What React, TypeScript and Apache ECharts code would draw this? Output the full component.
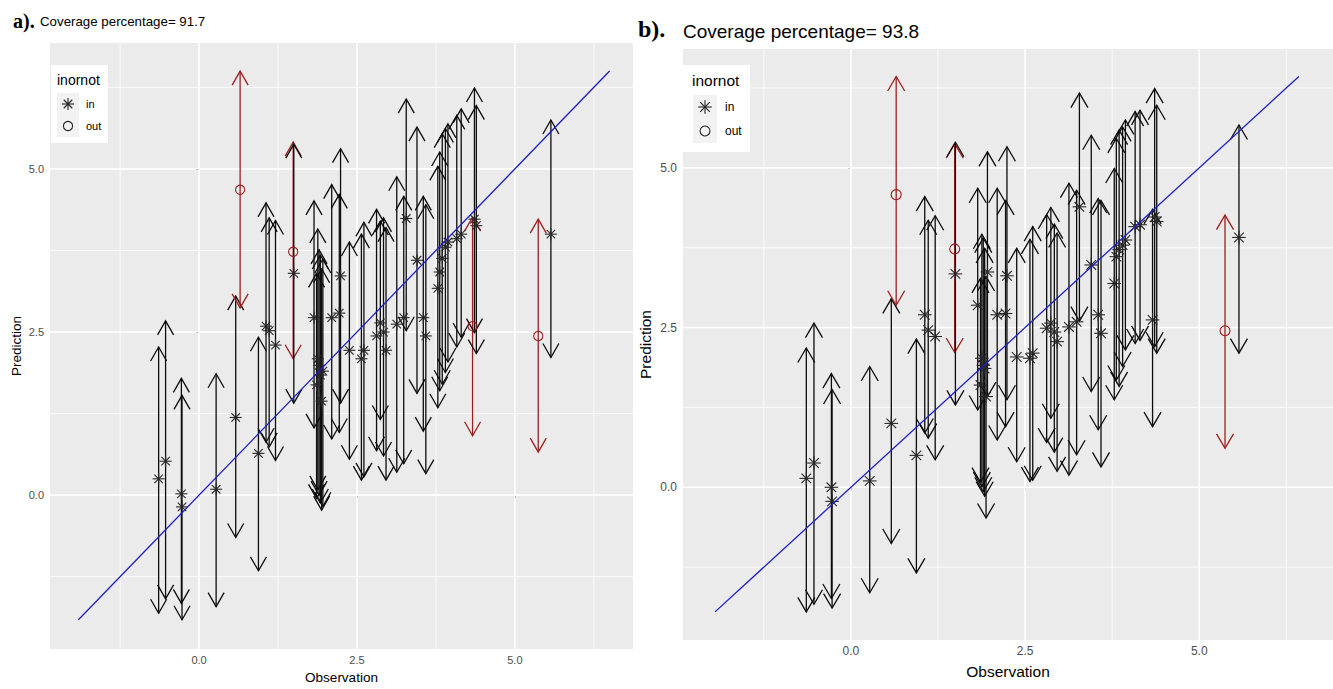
import React, { useEffect, useRef } from 'react';
import * as echarts from 'echarts';

// ---------------- data ----------------
const obs = [
  -0.64, -0.53, -0.28, -0.27, 0.27, 0.58, 0.65, 0.94, 1.06, 1.11, 1.21, 1.49, 1.5,
  1.82, 1.86, 1.88, 1.9, 1.92, 1.94, 1.96, 2.1, 2.22, 2.24, 2.38, 2.57, 2.61,
  2.81, 2.87, 2.92, 2.96, 3.13, 3.24, 3.28, 3.45, 3.55, 3.59, 3.78, 3.81, 3.85,
  3.9, 3.94, 4.08, 4.15, 4.33, 4.36, 4.39, 5.37, 5.57,
];

const predA = [
  0.25, 0.52, 0.02, -0.18, 0.09, 1.19, 4.68, 0.64, 2.59, 2.52, 2.3, 3.73, 3.4,
  2.72, 1.69, 2.09, 1.99, 1.84, 1.44, 1.9, 2.72, 2.79, 3.36, 2.22, 2.09, 2.22,
  2.44, 2.64, 2.5, 2.22, 2.62, 2.72, 4.24, 3.6, 2.72, 2.44, 3.17, 3.42, 3.63,
  3.8, 3.88, 3.93, 4.0, 2.59, 4.23, 4.13, 2.44, 4.0,
];
const lowA = [
  -1.81, -1.59, -1.66, -1.91, -1.71, -0.65, 2.87, -1.16, 0.81, 0.74, 0.53, 2.09, 1.41,
  1.03, -0.05, 0.08, 0.0, -0.12, -0.23, -0.17, 0.86, 0.96, 1.41, 0.55, 0.23, 0.28,
  0.68, 1.16, 0.6, 0.23, 0.35, 0.48, 2.52, 1.56, 0.98, 0.33, 1.34, 1.6, 1.7,
  1.88, 2.04, 2.27, 2.42, 0.91, 2.49, 2.17, 0.66, 2.11,
];
const highA = [
  2.27, 2.67, 1.79, 1.53, 1.86, 3.05, 6.5, 2.42, 4.48, 4.25, 4.21, 5.41, 5.38,
  4.51, 3.4, 4.08, 3.76, 3.68, 3.47, 3.62, 4.76, 4.61, 5.31, 3.88, 4.0, 4.18,
  4.38, 4.2, 4.25, 4.1, 4.88, 4.58, 6.07, 5.64, 4.58, 4.45, 5.04, 5.26, 5.54,
  5.62, 5.69, 5.82, 5.92, 4.26, 6.24, 5.97, 4.23, 5.75,
];

const predB = [
  0.14, 0.38, 0.0, -0.22, 0.1, 1.0, 4.58, 0.5, 2.7, 2.46, 2.36, 3.73, 3.34,
  2.85, 1.6, 2.02, 1.91, 1.86, 1.42, 3.37, 2.7, 2.72, 3.31, 2.04, 2.02, 2.1,
  2.49, 2.57, 2.43, 2.28, 2.51, 2.59, 4.39, 3.48, 2.7, 2.41, 3.19, 3.61, 3.72,
  3.79, 3.87, 4.08, 4.11, 2.62, 4.23, 4.16, 2.45, 3.91,
];
const lowB = [
  -1.95, -1.83, -1.74, -1.89, -1.65, -0.88, 2.85, -1.34, 0.85, 0.77, 0.43, 2.11, 1.29,
  1.21, 0.08, 0.01, -0.07, -0.14, -0.48, 1.42, 0.74, 0.95, 1.37, 0.4, 0.09, 0.11,
  0.7, 1.08, 0.55, 0.25, 0.19, 0.51, 2.6, 1.5, 0.9, 0.32, 1.37, 1.68, 1.58,
  1.89, 2.15, 2.25, 2.3, 0.95, 2.2, 2.1, 0.61, 2.1,
];
const highB = [
  2.18, 2.57, 1.78, 1.53, 1.89, 2.95, 6.43, 2.32, 4.55, 4.18, 4.25, 5.38, 5.4,
  4.68, 3.27, 3.96, 3.9, 3.74, 3.3, 5.25, 4.68, 4.49, 5.33, 3.74, 3.88, 4.08,
  4.27, 4.38, 4.12, 3.98, 4.76, 4.65, 6.17, 5.51, 4.52, 4.49, 4.99, 5.46, 5.59,
  5.64, 5.75, 5.88, 5.9, 4.35, 6.24, 5.98, 4.26, 5.67,
];

const tickValues = [0, 2.5, 5];
const gridValues = [-1.25, 0, 1.25, 2.5, 3.75, 5, 6.25];
const panelTags = ['a).', 'b).'];
const panelTitles = ['Coverage percentage= 91.7', 'Coverage percentage= 93.8'];
const legendTitle = 'inornot';
const legendLabels = ['in', 'out'];
const xName = 'Observation';
const yName = 'Prediction';

// ---------------- styles / layout ----------------
const SANS = '"Liberation Sans", Arial, sans-serif';
const SERIF = '"Liberation Serif", "Times New Roman", serif';
const BLACK = '#0D0D0D';
const RED = '#9E1F1F';
const BLUE = '#1F1FC4';

const panels = [
  {
    grid: { left: 50, top: 43, width: 583, height: 615 },
    xMin: -2.36, xMax: 6.87, yMin: -2.36, yMax: 6.93,
    headW: 8, headL: 14, star: 6, circ: 4.6,
    tickFont: 11, nameFont: 13.5, xNameGap: 19, yNameGap: 27,
    pred: predA, low: lowA, high: highA,
    tag: { x: 13, y: 21, size: 20 }, title: { x: 40, y: 21, size: 13.3 },
    legend: { x: 51, y: 65, w: 57, h: 78, tx: 57, ty: 80, tsize: 14, kx: 57, ky: 93, k: 22, lx: 86, lsize: 11 },
  },
  {
    grid: { left: 683, top: 49, width: 666, height: 591 },
    xMin: -2.41, xMax: 6.92, yMin: -2.39, yMax: 6.86,
    headW: 8.5, headL: 14.5, star: 6.8, circ: 5,
    tickFont: 12, nameFont: 15.5, xNameGap: 23, yNameGap: 30,
    pred: predB, low: lowB, high: highB,
    tag: { x: 638, y: 29, size: 24 }, title: { x: 683, y: 31, size: 19 },
    legend: { x: 683, y: 65, w: 67, h: 87, tx: 692, ty: 80, tsize: 15.5, kx: 693, ky: 95, k: 24, lx: 725, lsize: 12 },
  },
];

function asteriskLines(cx: number, cy: number, r: number, color: string, lw: number) {
  const d = r * 0.7071;
  const style = { stroke: color, lineWidth: lw };
  return [
    { type: 'line', shape: { x1: cx - r, y1: cy, x2: cx + r, y2: cy }, style },
    { type: 'line', shape: { x1: cx, y1: cy - r, x2: cx, y2: cy + r }, style },
    { type: 'line', shape: { x1: cx - d, y1: cy - d, x2: cx + d, y2: cy + d }, style },
    { type: 'line', shape: { x1: cx - d, y1: cy + d, x2: cx + d, y2: cy - d }, style },
  ];
}

function buildOption() {
  const series: any[] = [];
  const graphic: any[] = [];

  panels.forEach((p, i) => {
    const rows = obs.map((o, k) => [o, p.pred[k], p.low[k], p.high[k], o < p.low[k] || o > p.high[k] ? 1 : 0]);
    const lineStart = Math.min(...p.low);
    const lineEnd = Math.max(...p.high);

    // grid lines
    const gl: any[] = [];
    gridValues.forEach((v) => { gl.push([v, 0]); gl.push([v, 1]); });
    series.push({
      type: 'custom',
      xAxisIndex: i,
      yAxisIndex: i,
      silent: true,
      z: 1,
      data: gl,
      renderItem: (params: any, api: any) => {
        const v = api.value(0);
        const o = api.value(1);
        const cs = params.coordSys;
        const major = tickValues.indexOf(v) >= 0;
        const lw = major ? 1.6 : 0.8;
        if (o === 0) {
          const px = api.coord([v, 0])[0];
          return { type: 'line', shape: { x1: px, y1: cs.y, x2: px, y2: cs.y + cs.height }, style: { stroke: '#FFFFFF', lineWidth: lw } };
        }
        const py = api.coord([0, v])[1];
        return { type: 'line', shape: { x1: cs.x, y1: py, x2: cs.x + cs.width, y2: py }, style: { stroke: '#FFFFFF', lineWidth: lw } };
      },
    });

    // arrows
    series.push({
      type: 'custom',
      xAxisIndex: i,
      yAxisIndex: i,
      silent: true,
      z: 2,
      data: rows,
      renderItem: (_params: any, api: any) => {
        const x = api.value(0);
        const lo = api.value(2);
        const hi = api.value(3);
        const out = api.value(4);
        const color = out ? RED : BLACK;
        const t = api.coord([x, hi]);
        const b = api.coord([x, lo]);
        const style = { stroke: color, lineWidth: 1.3, fill: 'none' };
        return {
          type: 'group',
          children: [
            { type: 'line', shape: { x1: t[0], y1: t[1], x2: b[0], y2: b[1] }, style },
            { type: 'polyline', shape: { points: [[t[0] - p.headW, t[1] + p.headL], [t[0], t[1]], [t[0] + p.headW, t[1] + p.headL]] }, style },
            { type: 'polyline', shape: { points: [[b[0] - p.headW, b[1] - p.headL], [b[0], b[1]], [b[0] + p.headW, b[1] - p.headL]] }, style },
          ],
        };
      },
    });

    // points
    series.push({
      type: 'custom',
      xAxisIndex: i,
      yAxisIndex: i,
      silent: true,
      z: 3,
      data: rows,
      renderItem: (_params: any, api: any) => {
        const x = api.value(0);
        const y = api.value(1);
        const out = api.value(4);
        const c = api.coord([x, y]);
        if (out) {
          return { type: 'circle', shape: { cx: c[0], cy: c[1], r: p.circ }, style: { stroke: RED, lineWidth: 1.1, fill: 'none' } };
        }
        return { type: 'group', children: asteriskLines(c[0], c[1], p.star, '#262626', 1.1) };
      },
    });

    // identity line
    series.push({
      type: 'line',
      xAxisIndex: i,
      yAxisIndex: i,
      silent: true,
      z: 4,
      symbol: 'none',
      data: [[lineStart, lineStart], [lineEnd, lineEnd]],
      lineStyle: { color: BLUE, width: 1.3 },
    });

    // titles
    graphic.push({
      type: 'text', x: p.tag.x, y: p.tag.y,
      style: { text: panelTags[i], fontFamily: SERIF, fontWeight: 'bold', fontSize: p.tag.size, fill: '#000', verticalAlign: 'middle', align: 'left' },
    });
    graphic.push({
      type: 'text', x: p.title.x, y: p.title.y,
      style: { text: panelTitles[i], fontFamily: SANS, fontSize: p.title.size, fill: '#000', verticalAlign: 'middle', align: 'left' },
    });

    // legend
    const L = p.legend;
    const kc = L.kx + L.k / 2;
    const ky1 = L.ky + L.k / 2;
    const ky2 = L.ky + L.k * 1.5;
    graphic.push({
      type: 'group',
      z: 100,
      children: [
        { type: 'rect', shape: { x: L.x, y: L.y, width: L.w, height: L.h }, style: { fill: '#FFFFFF' } },
        { type: 'text', x: L.tx, y: L.ty, style: { text: legendTitle, fontFamily: SANS, fontSize: L.tsize, fill: '#000', verticalAlign: 'middle' } },
        { type: 'rect', shape: { x: L.kx, y: L.ky, width: L.k, height: L.k * 2 }, style: { fill: '#F2F2F2' } },
        ...asteriskLines(kc, ky1, p.star, '#222222', 1.1),
        { type: 'circle', shape: { cx: kc, cy: ky2, r: p.circ }, style: { stroke: '#222222', lineWidth: 1.1, fill: 'none' } },
        { type: 'text', x: L.lx, y: ky1, style: { text: legendLabels[0], fontFamily: SANS, fontSize: L.lsize, fill: '#000', verticalAlign: 'middle' } },
        { type: 'text', x: L.lx, y: ky2, style: { text: legendLabels[1], fontFamily: SANS, fontSize: L.lsize, fill: '#000', verticalAlign: 'middle' } },
      ],
    });
  });

  return {
    animation: false,
    backgroundColor: '#FFFFFF',
    grid: panels.map((p) => ({ ...p.grid, show: true, backgroundColor: '#EBEBEB', borderWidth: 0 })),
    xAxis: panels.map((p, i) => ({
      type: 'value',
      gridIndex: i,
      min: p.xMin,
      max: p.xMax,
      name: xName,
      nameLocation: 'middle',
      nameGap: p.xNameGap,
      nameTextStyle: { fontSize: p.nameFont, color: '#000', fontFamily: SANS },
      axisLine: { show: false },
      splitLine: { show: false },
      axisTick: { show: true, customValues: tickValues, length: 3, lineStyle: { color: '#333333', width: 1 } },
      axisLabel: { customValues: tickValues, formatter: (v: number) => v.toFixed(1), color: '#4D4D4D', fontSize: p.tickFont, margin: 5, fontFamily: SANS },
    })),
    yAxis: panels.map((p, i) => ({
      type: 'value',
      gridIndex: i,
      min: p.yMin,
      max: p.yMax,
      name: yName,
      nameLocation: 'middle',
      nameRotate: 90,
      nameGap: p.yNameGap,
      nameTextStyle: { fontSize: p.nameFont, color: '#000', fontFamily: SANS },
      axisLine: { show: false },
      splitLine: { show: false },
      axisTick: { show: true, customValues: tickValues, length: 3, lineStyle: { color: '#333333', width: 1 } },
      axisLabel: { customValues: tickValues, formatter: (v: number) => v.toFixed(1), color: '#4D4D4D', fontSize: p.tickFont, margin: 6, fontFamily: SANS },
    })),
    series,
    graphic,
  };
}

export default function App() {
  const ref = useRef<HTMLDivElement>(null);
  useEffect(() => {
    if (!ref.current) return;
    const chart = echarts.init(ref.current, undefined, { renderer: 'svg' });
    chart.setOption(buildOption() as any);
    return () => chart.dispose();
  }, []);
  return <div ref={ref} style={{ position: 'fixed', left: 0, top: 0, width: 1333, height: 689, background: '#fff' }} />;
}
